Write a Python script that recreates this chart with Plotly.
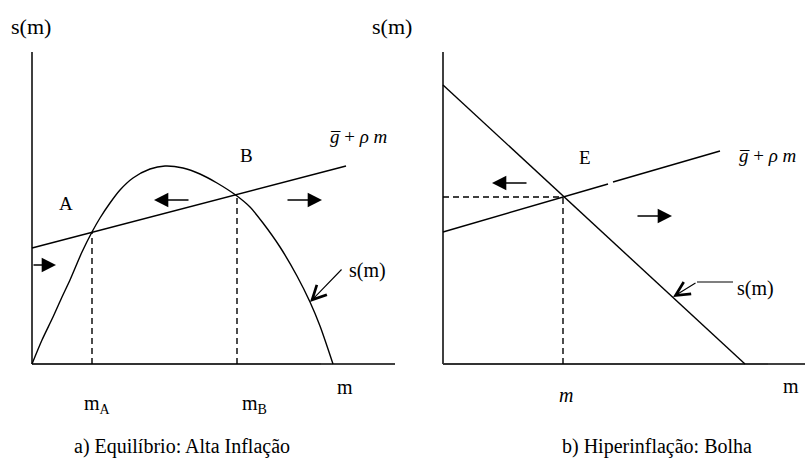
import plotly.graph_objects as go

# ---------------- Panel a) Equilíbrio: Alta Inflação ----------------
hump_m = [0, 1.0, 2.1, 3.0, 3.8, 5.0, 6.0, 6.8, 7.8, 8.8, 10.1, 11.8, 13.3,
          15.1, 16.8, 18.5, 20.5, 21.8, 23.1, 24.8, 26.5, 27.8, 28.8, 30.1]
hump_s = [0, 2.4, 4.7, 6.7, 8.4, 11.2, 13.2, 14.6, 16.1, 17.4, 18.6, 19.5, 19.8,
          19.6, 19.0, 18.1, 16.8, 15.7, 14.1, 11.7, 8.8, 6.2, 3.8, 0]
line_a_m = [0, 31.4]
line_a_s = [11.6, 19.8]
eq_a_m = [6.0, 20.5]          # m_A, m_B
eq_a_s = [13.2, 16.8]
axis_a_ymax = 31.2
axis_a_xthick = 28.9
axis_a_xmax = 36.3
# arrows: (tail_m, tail_s, head_m, head_s)
arrows_a = [(15.8, 16.4, 12.2, 16.4), (25.4, 16.4, 29.0, 16.4), (0.0, 9.9, 2.4, 9.9)]
leader_a = (31.1, 9.6, 27.8, 6.2)

# ---------------- Panel b) Hiperinflação: Bolha ----------------
sb_m = [0, 30.2]
sb_s = [27.9, 0]
line_b1_m = [0, 16.5]
line_b1_s = [13.2, 18.0]
line_b2_m = [17.0, 27.7]
line_b2_s = [18.2, 21.3]
eq_b_m = 12.0
eq_b_s = 16.7
axis_b_ymax = 31.2
axis_b_xthick = 32.5
axis_b_xmax = 36.2
arrows_b = [(8.5, 18.1, 4.9, 18.1), (19.3, 14.8, 22.9, 14.8)]
leader_b_h = ([29.0, 25.4], [8.2, 8.2])
leader_b = (25.4, 8.2, 23.0, 6.7)

FONT = "Liberation Serif, Times New Roman, serif"
BLK = "black"

fig = go.Figure()


def line(xs, ys, ax="x", w=1.3, color=BLK, dash=None):
    fig.add_trace(go.Scatter(x=xs, y=ys, xaxis=ax, yaxis="y", mode="lines",
                             line=dict(color=color, width=w, dash=dash),
                             hoverinfo="skip", showlegend=False))


# panel a
line([0, 0], [0, axis_a_ymax], w=1.5)
line([0, axis_a_xthick], [0, 0], w=2.2, color="#333333")
line([axis_a_xthick, axis_a_xmax], [0, 0], w=1.3)
fig.add_trace(go.Scatter(x=hump_m, y=hump_s, mode="lines", xaxis="x", yaxis="y",
                         line=dict(color=BLK, width=1.4, shape="spline", smoothing=0.8),
                         hoverinfo="skip", showlegend=False))
line(line_a_m, line_a_s, w=1.4)
for m, s in zip(eq_a_m, eq_a_s):
    line([m, m], [0, s], w=1.4, dash="6px,4px")

# panel b
line([0, 0], [0, axis_b_ymax], ax="x2", w=1.5)
line([0, axis_b_xthick], [0, 0], ax="x2", w=2.2, color="#333333")
line([axis_b_xthick, axis_b_xmax], [0, 0], ax="x2", w=1.3)
line(sb_m, sb_s, ax="x2", w=1.4)
line(line_b1_m, line_b1_s, ax="x2", w=1.4)
line(line_b2_m, line_b2_s, ax="x2", w=1.4)
line([0, eq_b_m], [eq_b_s, eq_b_s], ax="x2", w=1.4, dash="6px,4px")
line([eq_b_m, eq_b_m], [0, eq_b_s], ax="x2", w=1.4, dash="6px,4px")
line(leader_b_h[0], leader_b_h[1], ax="x2", w=1.2)

ann = []


def arrow(t, xr, head=2, size=2.2, w=1.3):
    ann.append(dict(x=t[2], y=t[3], ax=t[0], ay=t[1], xref=xr, yref="y",
                    axref=xr, ayref="y", text="", showarrow=True,
                    arrowhead=head, arrowsize=size, arrowwidth=w,
                    arrowcolor=BLK, standoff=0, startstandoff=0))


def text(x, y, s, xr, size=18):
    ann.append(dict(x=x, y=y, xref=xr, yref="y", text=s, showarrow=False,
                    font=dict(family=FONT, size=size, color=BLK),
                    xanchor="center", yanchor="middle"))


for a in arrows_a:
    arrow(a, "x")
for a in arrows_b:
    arrow(a, "x2")
arrow(leader_a, "x", head=5, size=2.5, w=1.1)
arrow(leader_b, "x2", head=5, size=2.5, w=1.1)

grho = "<i>g\u0305</i> + <i>\u03c1 m</i>"

# panel a labels
text(-0.1, 33.8, "s(m)", "x", 22)
text(3.4, 16.1, "A", "x", 19)
text(21.4, 20.9, "B", "x", 19)
text(32.6, 22.8, grho, "x", 19)
text(33.5, 9.4, "s(m)", "x", 20)
text(31.3, -2.3, "m", "x", 20)
text(6.5, -4.0, "m<sub>A</sub>", "x", 20)
text(22.2, -4.0, "m<sub>B</sub>", "x", 20)
text(15.0, -8.2, "a) Equilíbrio: Alta Inflação", "x", 20)

# panel b labels
text(-5.1, 33.8, "s(m)", "x2", 22)
text(14.2, 20.7, "E", "x2", 19)
text(32.4, 20.9, grho, "x2", 19)
text(31.2, 7.6, "s(m)", "x2", 20)
text(34.8, -2.2, "m", "x2", 20)
text(12.3, -3.1, "<i>m</i>", "x2", 20)
text(21.4, -8.2, "b) Hiperinflação: Bolha", "x2", 20)

fig.update_layout(
    width=805, height=459,
    margin=dict(l=0, r=0, t=0, b=0),
    paper_bgcolor="white", plot_bgcolor="white",
    xaxis=dict(range=[-3.2, 77.3], visible=False, domain=[0, 1], fixedrange=True),
    xaxis2=dict(range=[-44.3, 36.2], visible=False, overlaying="x", fixedrange=True),
    yaxis=dict(range=[-9.5, 36.4], visible=False, domain=[0, 1], fixedrange=True),
    annotations=ann,
    showlegend=False,
)

fig.write_html("out.html", config={"displayModeBar": False},
               post_script="document.body.style.margin='0px';document.body.style.overflow='hidden';")
